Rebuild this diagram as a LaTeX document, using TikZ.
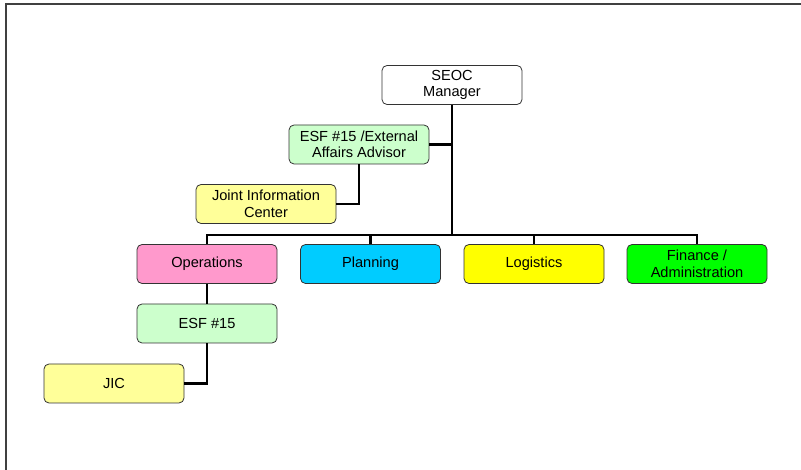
\documentclass[tikz,border=0pt]{standalone}
\usepackage{fontspec}
\setmainfont{Liberation Sans}
\definecolor{pinkbox}{HTML}{FF99CC}
\definecolor{cyanbox}{HTML}{00CCFF}
\definecolor{yellowbox}{HTML}{FFFF00}
\definecolor{greenbox}{HTML}{00FF00}
\definecolor{lgreen}{HTML}{CCFFCC}
\definecolor{lyellow}{HTML}{FFFF99}
\begin{document}
\begin{tikzpicture}[x=1pt,y=-1pt,
  box/.style={draw=black!80, line width=0.8pt, rounded corners=5pt, minimum width=140pt, minimum height=39pt, align=center, inner sep=0pt, font=\fontsize{14.6}{16.5}\selectfont},
  conn/.style={line width=2.6pt, black}]
\useasboundingbox (0,0) rectangle (801,470);
\draw[line width=1.6pt, black!75] (6,470) -- (6,4) -- (801,4);
\node[box, fill=white] (seoc) at (452,85) {SEOC\\Manager};
\node[box, fill=lgreen] (ext) at (359,144.5) {ESF \#15 /External\\Affairs Advisor};
\node[box, fill=lyellow] (jicc) at (266,204) {Joint Information\\Center};
\node[box, fill=pinkbox] (ops) at (207,264) {Operations};
\node[box, fill=cyanbox] (plan) at (370.5,264) {Planning};
\node[box, fill=yellowbox] (log) at (534,264) {Logistics};
\node[box, fill=greenbox] (fin) at (697,264) {Finance /\\Administration};
\node[box, fill=lgreen] (esf) at (207,323.5) {ESF \#15};
\node[box, fill=lyellow] (jic) at (114,383.5) {JIC};
\coordinate (bus) at (452,235);
\draw[conn] (seoc.south) -- (bus);
\draw[conn] (ext.east) -- (ext.east -| seoc.south);
\draw[conn] (ext.south) |- (jicc.east);
\draw[conn] (ops.north) |- (bus) -| (fin.north);
\draw[conn] (plan.north) -- (plan.north |- bus);
\draw[conn] (log.north) -- (log.north |- bus);
\draw[conn] (ops.south) -- (esf.north);
\draw[conn] (esf.south) |- (jic.east);
\end{tikzpicture}
\end{document}
